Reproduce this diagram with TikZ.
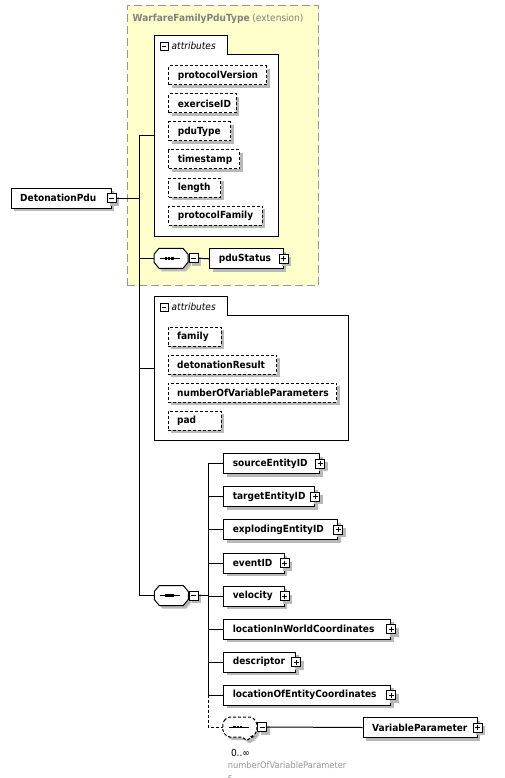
\documentclass[tikz,border=0pt]{standalone}
\usepackage{fontspec}
\setmainfont{DejaVu Sans}[FakeStretch=0.92]
\usetikzlibrary{shadows}
\definecolor{extfill}{RGB}{255,255,204}
\definecolor{extborder}{RGB}{150,150,150}
\definecolor{shadowgray}{RGB}{185,185,185}
\definecolor{titlegray}{RGB}{128,128,128}
\definecolor{labelgray}{RGB}{150,150,150}
\newcommand\elem[6]{\node[#1] (#2) at (#3,#4) {\makebox[\dimexpr#5pt-18pt\relax][l]{#6}};}
\newcommand\seqdots{%
  \draw[line width=1pt] (-11,0) -- (9,0);
  \fill (-6.4,-1.3) rectangle (-3.8,1.3);
  \fill (-3.2,-1.3) rectangle (-0.6,1.3);
  \fill (0,-1.3) rectangle (2.6,1.3);}
\newcommand\seqsolid[1]{%
  \begin{scope}[shift={(#1.center)}]
  \fill[shadowgray] (-14,-1) -- (-9,-7) -- (15,-7) -- (20,-1) -- (20,7) -- (15,13) -- (-9,13) -- (-14,7) -- cycle;
  \draw[line width=1pt,fill=white] (-17,-4) -- (-12,-10) -- (12,-10) -- (17,-4) -- (17,4) -- (12,10) -- (-12,10) -- (-17,4) -- cycle;
  \seqdots
  \end{scope}}
\newcommand\seqdashed[1]{%
  \begin{scope}[shift={(#1.center)}]
  \fill[shadowgray,rounded corners=2pt] (-14,-2) -- (-9,-7) -- (15,-7) -- (20,-2) -- (20,8) -- (15,13) -- (14,13) -- (10,17) -- (6,13) -- (-9,13) -- (-14,8) -- cycle;
  \draw[line width=1pt,fill=white,dash pattern=on 3pt off 2pt,rounded corners=2pt] (-17,-5) -- (-12,-10) -- (12,-10) -- (17,-5) -- (17,5) -- (12,10) -- (11,10) -- (7,14) -- (3,10) -- (-12,10) -- (-17,5) -- cycle;
  \seqdots
  \end{scope}}
\tikzset{
  shadowed/.style={drop shadow={shadow xshift=3pt,shadow yshift=-3pt,fill=shadowgray,opacity=1}},
  elembox/.style={draw,fill=white,line width=1pt,shadowed,minimum height=20pt,inner xsep=9pt,inner ysep=0pt,anchor=north west,font=\bfseries\fontsize{9.8}{12}\selectfont},
  attrbox/.style={elembox,minimum height=19pt,dash pattern=on 3pt off 2pt},
  pmbox/.style={draw,fill=white,line width=1pt,minimum size=9pt,inner sep=0pt},
  minussign/.style={path picture={\draw[line width=1pt] ([xshift=2pt]path picture bounding box.west) -- ([xshift=-2pt]path picture bounding box.east);}},
  plussign/.style={path picture={\draw[line width=1pt] ([xshift=2pt]path picture bounding box.west) -- ([xshift=-2pt]path picture bounding box.east);
     \draw[line width=1pt] ([yshift=-2pt]path picture bounding box.north) -- ([yshift=2pt]path picture bounding box.south);}},
  plusbox/.style={pmbox,shadowed,plussign},
  minusbox/.style={pmbox,shadowed,minussign},
  tabminus/.style={pmbox,minimum size=8pt,minussign},
  tablabel/.style={anchor=base west,inner sep=0pt,font=\itshape\fontsize{9.8}{12}\selectfont},
  extbox/.style={draw=extborder,fill=extfill,line width=1pt,dash pattern=on 8pt off 4pt,anchor=north west,inner sep=0pt},
  groupbody/.style={fill=white,anchor=north west,inner sep=0pt},
  grouptab/.style={fill=white,anchor=south west,inner sep=0pt},
  groupline/.style={line width=1pt},
  seqnode/.style={minimum width=34pt,minimum height=20pt,inner sep=0pt},
  conn/.style={line width=1pt},
  dashconn/.style={line width=1pt,dash pattern=on 3pt off 2pt},
  graylabel/.style={anchor=base west,inner sep=0pt,text=labelgray,font=\fontsize{9}{11}\selectfont},
}
\begin{document}
\begin{tikzpicture}[x=1pt,y=-1pt]
\useasboundingbox (0,0) rectangle (505,778);
% extension box
\node[extbox,minimum width=191.6pt,minimum height=280pt] (ext) at (126.7,5) {};
\node[anchor=base west,inner sep=0pt,text=titlegray,font=\fontsize{9.8}{12}\selectfont] (exttitle) at (132.5,22) {\textbf{WarfareFamilyPduType} (extension)};
% attributes group 1
\node[groupbody,minimum width=123.4pt,minimum height=180.7pt] (attr1) at (154.3,55) {};
\node[grouptab,minimum width=72.4pt,minimum height=19pt] (attr1tab) at (attr1.north west) {};
\draw[groupline] (attr1tab.south west) |- (attr1tab.north east) |- (attr1.north east) |- (attr1.south west) -- cycle;
\node[tabminus] (attr1m) at (164.3,46.3) {};
\node[tablabel] (attr1lbl) at (171.5,50) {attributes};
\elem{attrbox}{pv}{168.3}{65.5}{97.7}{protocolVersion}
\elem{attrbox}{ex}{168.3}{93.5}{67.4}{exerciseID}
\elem{attrbox}{pt}{168.3}{121.5}{61.7}{pduType}
\elem{attrbox}{ts}{168.3}{149.5}{70.7}{timestamp}
\elem{attrbox}{ln}{168.3}{177.5}{51.7}{length}
\elem{attrbox}{pf}{168.3}{205.5}{93.4}{protocolFamily}
% root
\elem{elembox}{dp}{10.7}{187.7}{100}{DetonationPdu}
\node[minusbox] (dpm) at (dp.east) {};
% sequence 1
\node[seqnode] (s1) at (171,258.3) {};
\seqsolid{s1}
\node[minusbox] (s1m) at (193.5,258.3) {};
\elem{elembox}{ps}{209.3}{248.3}{73.4}{pduStatus}
\node[plusbox] (psp) at (ps.east) {};
% attributes group 2
\node[groupbody,minimum width=194pt,minimum height=125pt] (attr2) at (154.3,315) {};
\node[grouptab,minimum width=72.4pt,minimum height=18.3pt] (attr2tab) at (attr2.north west) {};
\draw[groupline] (attr2tab.south west) |- (attr2tab.north east) |- (attr2.north east) |- (attr2.south west) -- cycle;
\node[tabminus] (attr2m) at (164.3,307) {};
\node[tablabel] (attr2lbl) at (171.5,310.7) {attributes};
\elem{attrbox}{fa}{167.7}{326.5}{53}{family}
\elem{attrbox}{dr}{167.7}{354.5}{108.3}{detonationResult}
\elem{attrbox}{nv}{167.7}{382.5}{168.3}{numberOfVariableParameters}
\elem{attrbox}{pd}{167.7}{410.5}{53}{pad}
% sequence 2
\node[seqnode] (s2) at (171.3,595.5) {};
\seqsolid{s2}
\node[minusbox] (s2m) at (193.8,595.5) {};
\elem{elembox}{src}{223.3}{453.3}{96}{sourceEntityID}
\node[plusbox] (srcp) at (src.east) {};
\elem{elembox}{tgt}{223.3}{486.4}{91}{targetEntityID}
\node[plusbox] (tgtp) at (tgt.east) {};
\elem{elembox}{xpl}{223.3}{519.4}{113.7}{explodingEntityID}
\node[plusbox] (xplp) at (xpl.east) {};
\elem{elembox}{evt}{223.3}{552.5}{60.5}{eventID}
\node[plusbox] (evtp) at (evt.east) {};
\elem{elembox}{vel}{223.3}{585.5}{60.5}{velocity}
\node[plusbox] (velp) at (vel.east) {};
\elem{elembox}{liw}{223.3}{618.6}{167}{locationInWorldCoordinates}
\node[plusbox] (liwp) at (liw.east) {};
\elem{elembox}{des}{223.3}{651.7}{72}{descriptor}
\node[plusbox] (desp) at (des.east) {};
\elem{elembox}{loe}{223.3}{684.7}{167}{locationOfEntityCoordinates}
\node[plusbox] (loep) at (loe.east) {};
% sequence 3
\node[seqnode] (s3) at (239.8,727) {};
\seqdashed{s3}
\node[minusbox] (s3m) at (262,727) {};
\elem{elembox}{vp}{362.7}{717}{114}{VariableParameter}
\node[plusbox] (vpp) at (vp.east) {};
\node[anchor=base west,inner sep=0pt,font=\fontsize{9.8}{12}\selectfont] (occ) at (230.8,756.5) {0..∞};
\node[graylabel] (occl1) at (227.7,768.8) {numberOfVariableParameter};
\node[graylabel] (occl2) at (227.7,780.5) {s};
% connectors
\coordinate (b1t) at (139.3,136);
\coordinate (b1b) at (139.3,595.5);
\coordinate (a2j) at (139.3,368.5);
\draw[conn] (b1t) -- (b1b) -- (s2.west);
\draw[conn] (b1t) -- (b1t -| attr1.west);
\draw[conn] (dpm.east) -- (dpm.east -| b1t);
\draw[conn] (s1.west -| b1t) -- (s1.west);
\draw[conn] (s1m.east) -- (ps.west);
\draw[conn] (a2j) -- (a2j -| attr2.west);
\coordinate (b2t) at (208.3,463.3);
\coordinate (b2m) at (208.3,694.7);
\coordinate (b2b) at (208.3,727);
\draw[conn] (b2t) -- (b2m);
\draw[dashconn] (b2m) -- (b2b) -- (s3.west);
\draw[conn] (s2m.east) -- (s2m.east -| b2t);
\foreach \c in {src,tgt,xpl,evt,vel,liw,des,loe} {\draw[conn] (\c.west -| b2t) -- (\c.west);}
\draw[conn] (s3m.east) -- (vp.west);
\end{tikzpicture}
\end{document}
